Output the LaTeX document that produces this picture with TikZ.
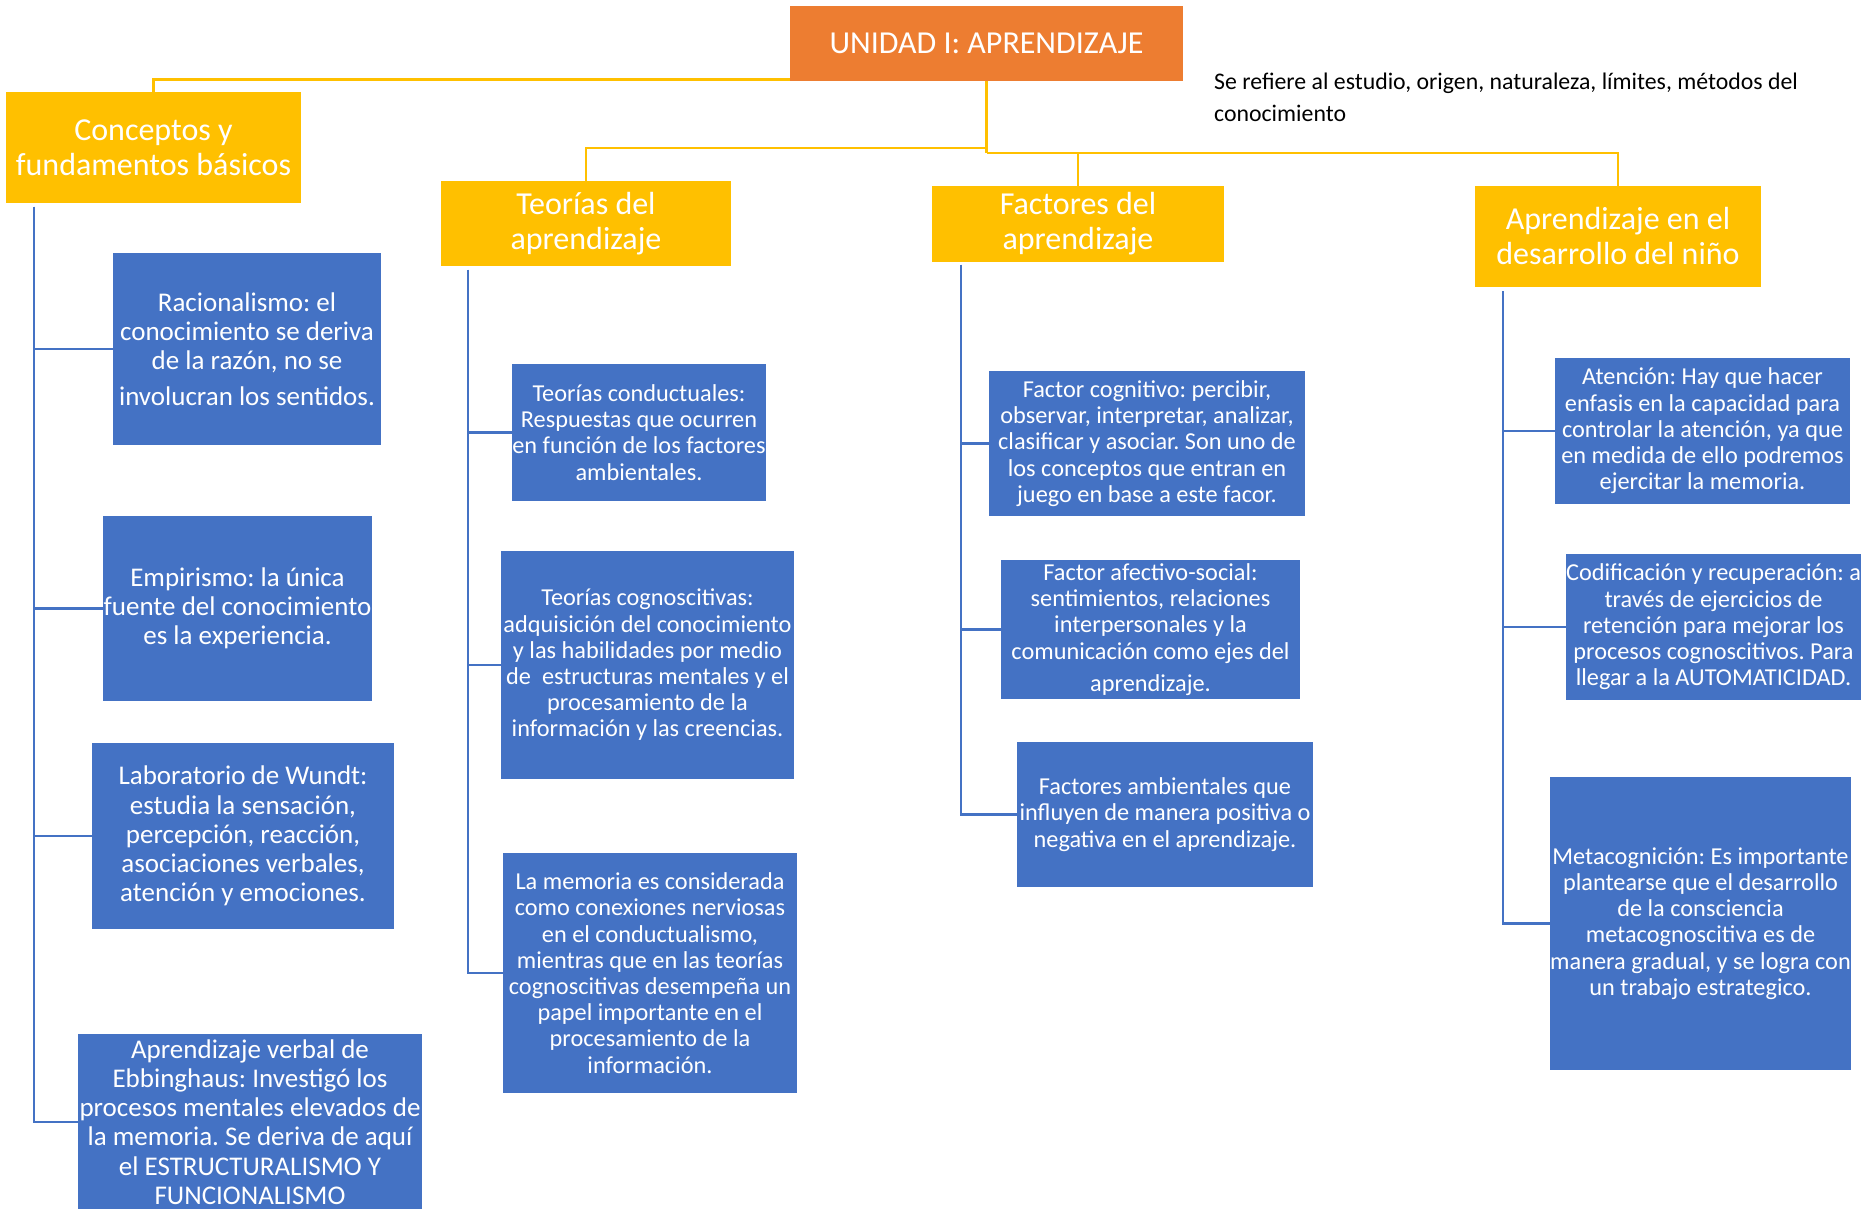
\documentclass[tikz,border=0pt]{standalone}
\usepackage{fontspec}
\setmainfont{Carlito}
\frenchspacing
\definecolor{orangeC}{HTML}{ED7D31}
\definecolor{yellowC}{HTML}{FFC000}
\definecolor{blueC}{HTML}{4472C4}
\begin{document}
\begin{tikzpicture}[x=1pt,y=-1pt,
  titlebox/.style={fill=orangeC,text=white,inner sep=0,align=center,font=\fontsize{32}{38}\selectfont},
  ybox/.style={fill=yellowC,text=white,inner sep=0,align=center,font=\fontsize{32}{35}\selectfont},
  bbox/.style={fill=blueC,text=white,inner sep=0,align=center},
  bigtxt/.style={font=\fontsize{27}{29.2}\selectfont},
  smalltxt/.style={font=\fontsize{24.3}{26.2}\selectfont},
  yline/.style={draw=yellowC,line width=2.8},
  bline/.style={draw=blueC,line width=2.6},
  sz/.style 2 args={minimum width=#1,minimum height=#2}]
\useasboundingbox (0,0) rectangle (1872,1209);
\begin{scope}
\clip (0,0) rectangle (1872,1209);
% top level
\node[titlebox,sz={393}{75}] (title) at (986.5,43.5) {UNIDAD I: APRENDIZAJE};
\node[anchor=west,align=left,inner sep=0,font=\fontsize{23.8}{32}\selectfont] (note) at (1214,97)
  {Se refiere al estudio, origen, naturaleza, límites, métodos del\\conocimiento};
\node[ybox,sz={295}{111}] (conc) at (153.5,147.5) {Conceptos y\\fundamentos básicos};
\node[ybox,sz={290}{85}] (teor) at (586,223.5) {Teorías del\\aprendizaje};
\node[ybox,sz={292}{76}] (fact) at (1078,224) {Factores del\\aprendizaje};
\node[ybox,sz={286}{101}] (nino) at (1618,236.5) {Aprendizaje en el\\desarrollo del niño};
% yellow connectors
\coordinate (j1) at (986.5,148);
\coordinate (j2) at (986.5,153);
\draw[yline] ([yshift=2]title.south west) -| (conc.north);
\draw[yline] (title.south) -- (j2);
\draw[yline] (j1) -| (teor.north);
\draw[yline] (j2) -| (fact.north);
\draw[yline] (j2) -| (nino.north);
% column 1
\node[bbox,bigtxt,sz={268}{192}] (rac) at (247,349) {Racionalismo: el\\conocimiento se deriva\\de la razón, no se\\[6pt]involucran los sentidos.};
\node[bbox,bigtxt,sz={269}{185}] (emp) at (237.5,608.5) {Empirismo: la única\\fuente del conocimiento\\es la experiencia.};
\node[bbox,bigtxt,sz={302}{186}] (wun) at (243,836) {Laboratorio de Wundt:\\estudia la sensación,\\percepción, reacción,\\asociaciones verbales,\\atención y emociones.};
\node[bbox,bigtxt,sz={344}{176}] (ebb) at (250,1122) {Aprendizaje verbal de\\Ebbinghaus: Investigó los\\procesos mentales elevados de\\la memoria. Se deriva de aquí\\el ESTRUCTURALISMO Y\\FUNCIONALISMO};
\coordinate (t1) at (34,207);
\foreach \n in {rac,emp,wun,ebb} \draw[bline] (t1) |- (\n.west);
% column 2
\node[bbox,smalltxt,sz={252}{137}] (cond) at (639,432.5) {Teorías conductuales:\\Respuestas que ocurren\\en función de los factores\\ambientales.};
\node[bbox,smalltxt,sz={293}{228}] (cogn) at (647.5,665) {Teorías cognoscitivas:\\adquisición del conocimiento\\y las habilidades por medio\\de\ \ estructuras mentales y el\\procesamiento de la\\información y las creencias.};
\node[bbox,smalltxt,sz={294}{240}] (mem) at (650,973) {La memoria es considerada\\como conexiones nerviosas\\en el conductualismo,\\mientras que en las teorías\\cognoscitivas desempeña un\\papel importante en el\\procesamiento de la\\información.};
\coordinate (t2) at (468,270);
\foreach \n in {cond,cogn,mem} \draw[bline] (t2) |- (\n.west);
% column 3
\node[bbox,smalltxt,sz={316}{145}] (cog) at (1147,443.5) {Factor cognitivo: percibir,\\observar, interpretar, analizar,\\clasificar y asociar. Son uno de\\los conceptos que entran en\\juego en base a este facor.};
\node[bbox,smalltxt,sz={299}{139}] (afe) at (1150.5,629.5) {Factor afectivo-social:\\sentimientos, relaciones\\interpersonales y la\\comunicación como ejes del\\[6pt]aprendizaje.};
\node[bbox,smalltxt,sz={296}{145}] (amb) at (1165,814.5) {Factores ambientales que\\influyen de manera positiva o\\negativa en el aprendizaje.};
\coordinate (t3) at (961,265);
\foreach \n in {cog,afe,amb} \draw[bline] (t3) |- (\n.west);
% column 4
\node[bbox,smalltxt,sz={295}{146}] (ate) at (1702.5,431) {Atención: Hay que hacer\\enfasis en la capacidad para\\controlar la atención, ya que\\en medida de ello podremos\\ejercitar la memoria.};
\node[bbox,smalltxt,sz={295}{146}] (cod) at (1713.5,627) {Codificación y recuperación: a\\través de ejercicios de\\retención para mejorar los\\procesos cognoscitivos. Para\\llegar a la AUTOMATICIDAD.};
\node[bbox,smalltxt,sz={301}{293}] (met) at (1700.5,923.5) {Metacognición: Es importante\\plantearse que el desarrollo\\de la consciencia\\metacognoscitiva es de\\manera gradual, y se logra con\\un trabajo estrategico.};
\coordinate (t4) at (1503,291);
\foreach \n in {ate,cod,met} \draw[bline] (t4) |- (\n.west);
\end{scope}
\end{tikzpicture}
\end{document}
